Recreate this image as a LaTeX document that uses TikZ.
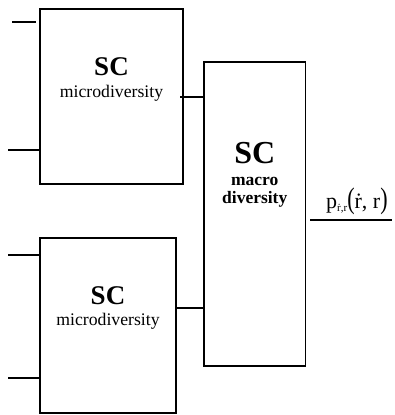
\documentclass[tikz,border=0pt]{standalone}
\usepackage{fontspec}
\setmainfont{Liberation Serif}
\usepackage{graphicx}
\tikzset{
  blk/.style={draw, line width=1.3pt, inner sep=0pt, fill=none},
  wire/.style={line width=1.2pt},
  big/.style={font=\fontsize{27}{27}\selectfont\bfseries, inner sep=0pt, anchor=base},
  small/.style={font=\fontsize{17.7}{17.7}\selectfont, inner sep=0pt, anchor=base},
}
\begin{document}
\begin{tikzpicture}[x=1pt,y=-1pt]
\useasboundingbox (0,0) rectangle (395,415);
% boxes
\node[blk, minimum width=143pt, minimum height=175pt] (b1) at (111.5,96.5) {};
\node[blk, minimum width=136pt, minimum height=175pt] (b2) at (108,325.5) {};
\node[blk, minimum width=101.5pt, minimum height=304pt] (m) at (254.75,214) {};
% texts
\node[big] (t1) at (111.5,75) {SC};
\node[small] (s1) at (111.5,97) {microdiversity};
\node[big] (t2) at (108,304) {SC};
\node[small] (s2) at (108,325) {microdiversity};
\node[big, font=\fontsize{32}{32}\selectfont\bfseries] (t3) at (254.75,163) {SC};
\node[small, font=\fontsize{17.5}{17.5}\selectfont\bfseries] (s3) at (254.75,185) {macro};
\node[small, font=\fontsize{17.5}{17.5}\selectfont\bfseries] (s4) at (254.75,203) {diversity};
% inputs
\coordinate (i1) at (12,22);
\coordinate (i1e) at (36,22);
\coordinate (i2) at (8,150);
\coordinate (i3) at (8,255);
\coordinate (i4) at (8,378);
\draw[wire] (i1) -- (i1e);
\draw[wire] (i2) -- (i2 -| b1.west);
\draw[wire] (i3) -- (i3 -| b2.west);
\draw[wire] (i4) -- (i4 -| b2.west);
% links
\coordinate (l1) at (180,97);
\coordinate (l2) at (176,308);
\draw[wire] (l1) -- (l1 -| m.west);
\draw[wire] (l2) -- (l2 -| m.west);
% output
\coordinate (o1) at (310,220);
\coordinate (o2) at (392,220);
\draw[wire] (o1) -- (o2);
\node[inner sep=0pt, anchor=base west, font=\fontsize{22}{22}\selectfont] (lab) at (326,208)
  {p\raisebox{-0.3ex}{\fontsize{11}{11}\selectfont ṙ,r}\scalebox{1}[1.35]{(}ṙ, r\scalebox{1}[1.35]{)}};
\end{tikzpicture}
\end{document}
